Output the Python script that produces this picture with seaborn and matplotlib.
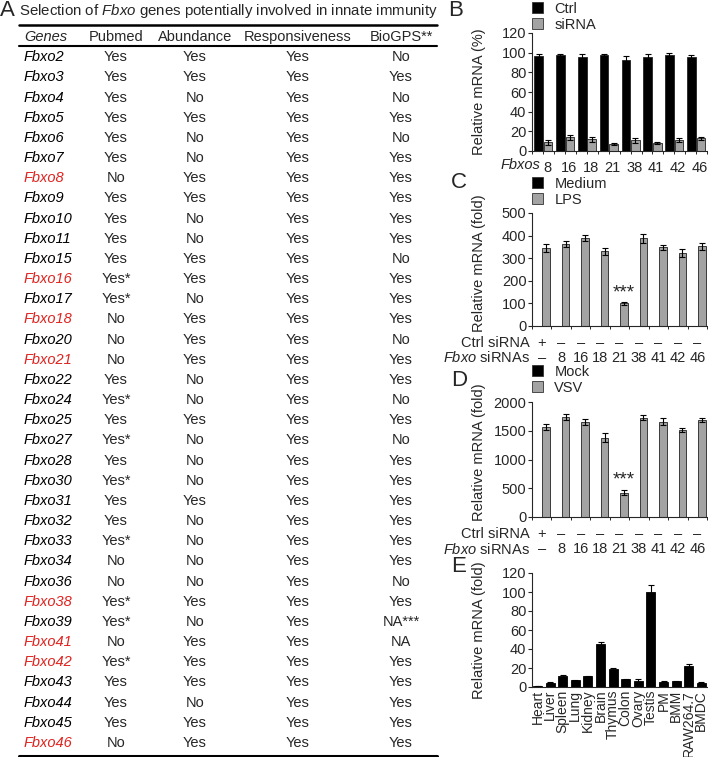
import numpy as np
import pandas as pd
import matplotlib
matplotlib.use("Agg")
import matplotlib.pyplot as plt
from matplotlib.patches import Patch
import seaborn as sns

# ---- table (panel A) ----
genes = ["Fbxo2", "Fbxo3", "Fbxo4", "Fbxo5", "Fbxo6", "Fbxo7", "Fbxo8", "Fbxo9",
         "Fbxo10", "Fbxo11", "Fbxo15", "Fbxo16", "Fbxo17", "Fbxo18", "Fbxo20",
         "Fbxo21", "Fbxo22", "Fbxo24", "Fbxo25", "Fbxo27", "Fbxo28", "Fbxo30",
         "Fbxo31", "Fbxo32", "Fbxo33", "Fbxo34", "Fbxo36", "Fbxo38", "Fbxo39",
         "Fbxo41", "Fbxo42", "Fbxo43", "Fbxo44", "Fbxo45", "Fbxo46"]
pubmed = ["Yes", "Yes", "Yes", "Yes", "Yes", "Yes", "No", "Yes", "Yes", "Yes", "Yes",
          "Yes*", "Yes*", "No", "No", "No", "Yes", "Yes*", "Yes", "Yes*", "Yes",
          "Yes*", "Yes", "Yes", "Yes*", "No", "No", "Yes*", "Yes*", "No", "Yes*",
          "Yes", "Yes", "Yes", "No"]
abundance = ["Yes", "Yes", "No", "Yes", "No", "No", "Yes", "Yes", "No", "No", "Yes",
             "Yes", "No", "Yes", "Yes", "Yes", "No", "No", "Yes", "No", "No", "No",
             "Yes", "No", "No", "No", "No", "Yes", "No", "Yes", "Yes", "Yes", "No",
             "Yes", "Yes"]
responsiveness = ["Yes", "Yes", "Yes", "Yes", "Yes", "Yes", "Yes", "Yes", "Yes", "Yes",
                  "Yes", "Yes", "Yes", "Yes", "Yes", "Yes", "Yes", "Yes", "Yes", "Yes",
                  "Yes", "Yes", "Yes", "Yes", "Yes", "Yes", "Yes", "Yes", "Yes", "Yes",
                  "Yes", "Yes", "Yes", "Yes", "Yes"]
biogps = ["No", "Yes", "No", "Yes", "No", "Yes", "Yes", "Yes", "Yes", "Yes", "No",
          "Yes", "Yes", "Yes", "No", "Yes", "Yes", "No", "Yes", "No", "Yes", "Yes",
          "Yes", "Yes", "Yes", "Yes", "No", "Yes", "NA***", "NA", "Yes", "Yes", "Yes",
          "Yes", "Yes"]
red_genes = ["Fbxo8", "Fbxo16", "Fbxo18", "Fbxo21", "Fbxo38", "Fbxo41", "Fbxo42", "Fbxo46"]
headers = ["Genes", "Pubmed", "Abundance", "Responsiveness", "BioGPS**"]

# ---- panel B ----
b_genes = ["8", "16", "18", "21", "38", "41", "42", "46"]
b_ctrl = [97, 98, 96, 98, 93, 96, 98, 96]
b_ctrl_err = [1.5, 1, 3, 1, 3.5, 2.5, 1.5, 2]
b_sirna = [9, 14, 12, 7, 11, 8, 11, 13]
b_sirna_err = [2.5, 2.5, 2.5, 1, 2.5, 1, 2, 1.5]

# ---- panel C ----
c_groups = ["ctrl", "8", "16", "18", "21", "38", "41", "42", "46"]
c_ctrl_row = ["+", "–", "–", "–", "–", "–", "–", "–", "–"]
c_fbxo_row = ["–", "8", "16", "18", "21", "38", "41", "42", "46"]
c_medium = [1.5, 1.5, 1.5, 1.5, 1.5, 1.5, 1.5, 1.5, 1.5]
c_lps = [345, 362, 390, 330, 100, 388, 348, 323, 352]
c_lps_err = [16, 13, 12, 15, 7, 20, 10, 16, 17]

# ---- panel D ----
d_mock = [6, 6, 6, 6, 6, 6, 6, 6, 6]
d_vsv = [1570, 1740, 1650, 1380, 420, 1730, 1660, 1510, 1695]
d_vsv_err = [55, 45, 50, 75, 45, 50, 55, 40, 35]

# ---- panel E ----
tissues = ["Heart", "Liver", "Spleen", "Lung", "Kidney", "Brain", "Thymus", "Colon",
           "Ovary", "Testis", "PM", "BMM", "RAW264.7", "BMDC"]
tissue_vals = [1, 4.5, 12, 7, 11.5, 45.5, 19, 8, 6.5, 100, 5.5, 6, 22.5, 4.5]
tissue_err = [0.3, 0.5, 1, 0.5, 0.5, 2, 1.5, 0.5, 1.5, 7, 0.5, 0.5, 1.5, 0.5]

sns.set_style("ticks")
plt.rcParams['font.family'] = ['Liberation Sans', 'DejaVu Sans']
plt.rcParams['mathtext.fontset'] = 'custom'
plt.rcParams['mathtext.rm'] = 'Liberation Sans'
plt.rcParams['mathtext.it'] = 'Liberation Sans:italic'
plt.rcParams['axes.linewidth'] = 0.8

W, H = 708, 757
FS = 10.5
GREY = '#a3a3a3'
RED = '#e0231f'

fig = plt.figure(figsize=(W / 100, H / 100), dpi=100)


def px_axes(l, t, r, b):
    return fig.add_axes([l / W, 1 - b / H, (r - l) / W, (b - t) / H])


def ftext(x, y, s, **kw):
    fig.text(x / W, 1 - y / H, s, **kw)


# panel letters
ftext(0, 11, "A", fontsize=16, va='center')
ftext(448, 11, "B", fontsize=16, va='center')
ftext(451, 183, "C", fontsize=16, va='center')
ftext(451, 380, "D", fontsize=16, va='center')
ftext(451, 567, "E", fontsize=16, va='center')
ftext(19, 11, r"Selection of $\mathit{Fbxo}$ genes potentially involved in innate immunity",
      fontsize=10.8, va='center')

# ---- table ----
ax_t = px_axes(19, 25, 437, 756)
ax_t.set_xlim(19, 437)
ax_t.set_ylim(34.65, -1.6)
ax_t.axis('off')
col_x = [24, 116, 195, 298, 401]
for j, h in enumerate(headers):
    ax_t.text(col_x[j], -1, h, ha='left' if j == 0 else 'center', va='center',
              fontsize=FS, style='italic' if j == 0 else 'normal')
for i, g in enumerate(genes):
    ax_t.text(col_x[0], i, g, ha='left', va='center', fontsize=FS, style='italic',
              color=RED if g in red_genes else 'black')
    for j, col in enumerate([pubmed, abundance, responsiveness, biogps]):
        ax_t.text(col_x[j + 1], i, col[i], ha='center', va='center', fontsize=FS)
ax_t.axhline(-1.6, color='black', lw=1.8, clip_on=False)
ax_t.axhline(-0.55, color='black', lw=1.5, clip_on=False)
ax_t.axhline(34.65, color='black', lw=2.2, clip_on=False)


def style_axes(ax, yticks, xlim):
    ax.set_ylim(0, yticks[-1])
    ax.set_yticks(yticks)
    ax.set_xlim(*xlim)
    ax.set_xlabel("")
    ax.set_ylabel("")
    sns.despine(ax=ax)
    ax.tick_params(axis='y', labelsize=FS, length=3, width=0.8, pad=1)
    ax.tick_params(axis='x', labelsize=FS, length=0, pad=3)


def add_errbars(ax, conts, errs):
    for cont, err in zip(conts, errs):
        xs = [p.get_x() + p.get_width() / 2 for p in cont]
        hs = [p.get_height() for p in cont]
        ax.errorbar(xs, hs, yerr=err, fmt='none', ecolor='black', elinewidth=0.8,
                    capsize=2, capthick=0.8)


def add_minor(ax, n):
    ax.set_xticks(np.arange(-0.5, n, 0.5), minor=True)
    ax.tick_params(axis='x', which='minor', length=2, width=0.7)


def legend(ax, labels, colors, x, y):
    handles = [Patch(facecolor=c, edgecolor='#333333', lw=0.6) for c in colors]
    ax.legend(handles=handles, labels=labels, loc='upper left',
              bbox_to_anchor=(x / W, 1 - y / H), bbox_transform=fig.transFigure,
              frameon=False, handlelength=0.78, handleheight=0.78, borderpad=0,
              borderaxespad=0, labelspacing=0.12, handletextpad=0.75, fontsize=FS)


# ---- panel B ----
ax_b = px_axes(532, 33, 707, 151)
df_b = pd.DataFrame({"gene": b_genes + b_genes,
                     "cond": ["Ctrl"] * len(b_genes) + ["siRNA"] * len(b_genes),
                     "value": b_ctrl + b_sirna})
sns.barplot(data=df_b, x="gene", y="value", hue="cond", palette=['black', GREY],
            width=0.88, gap=0.1, edgecolor='#222222', linewidth=0.6,
            errorbar=None, legend=False, ax=ax_b)
add_errbars(ax_b, ax_b.containers, [b_ctrl_err, b_sirna_err])
style_axes(ax_b, [0, 20, 40, 60, 80, 100, 120], (-0.52, 7.43))
ax_b.set_xticks(np.arange(len(b_genes)) + 0.17, b_genes)
ax_b.tick_params(axis='x', pad=7)
add_minor(ax_b, 8)
ax_b.set_ylabel("Relative mRNA (%)", fontsize=FS)
ax_b.yaxis.set_label_coords(-0.26, 0.5)
ax_b.annotate("Fbxos", xy=(0, 0), xycoords='axes fraction', xytext=(8, -14),
              textcoords='offset pixels', ha='right', va='center', style='italic',
              fontsize=FS)
legend(ax_b, ["Ctrl", "siRNA"], ['black', GREY], 532, 2)


def panel_cd(ax, low, high, high_err, labels, yticks, ylabel, star_y):
    df = pd.DataFrame({"grp": c_groups + c_groups,
                       "cond": [labels[0]] * len(c_groups) + [labels[1]] * len(c_groups),
                       "value": low + high})
    sns.barplot(data=df, x="grp", y="value", hue="cond", palette=['black', GREY],
                width=0.92, gap=0.15, edgecolor='#222222', linewidth=0.6,
                errorbar=None, legend=False, ax=ax)
    add_errbars(ax, [ax.containers[1]], [high_err])
    style_axes(ax, yticks, (-0.45, 8.35))
    add_minor(ax, 9)
    ax.set_xticklabels([])
    for i in range(len(c_groups)):
        ax.annotate(c_ctrl_row[i], xy=(i, 0), xycoords=('data', 'axes fraction'),
                    xytext=(0, -17), textcoords='offset pixels', ha='center',
                    va='center', fontsize=FS)
        ax.annotate(c_fbxo_row[i], xy=(i, 0), xycoords=('data', 'axes fraction'),
                    xytext=(0, -32), textcoords='offset pixels', ha='center',
                    va='center', fontsize=FS)
    ax.annotate("Ctrl siRNA", xy=(0, 0), xycoords='axes fraction', xytext=(-2, -17),
                textcoords='offset pixels', ha='right', va='center', fontsize=FS)
    ax.annotate(r"$\mathit{Fbxo}$ siRNAs", xy=(0, 0), xycoords='axes fraction',
                xytext=(-2, -32), textcoords='offset pixels', ha='right', va='center',
                fontsize=FS)
    ax.text(c_groups.index("21") + 0.22, star_y, "***", ha='center', va='bottom',
            fontsize=FS + 3)
    ax.set_ylabel(ylabel, fontsize=FS)
    ax.yaxis.set_label_coords(-0.26, 0.56)


ax_c = px_axes(532, 213, 707, 326)
panel_cd(ax_c, c_medium, c_lps, c_lps_err, ["Medium", "LPS"], [0, 100, 200, 300, 400, 500],
         "Relative mRNA (fold)", 110)
legend(ax_c, ["Medium", "LPS"], ['black', GREY], 532, 177)

ax_d = px_axes(532, 402, 707, 517)
panel_cd(ax_d, d_mock, d_vsv, d_vsv_err, ["Mock", "VSV"], [0, 500, 1000, 1500, 2000],
         "Relative mRNA (fold)", 500)
legend(ax_d, ["Mock", "VSV"], ['black', GREY], 532, 365)

# ---- panel E ----
ax_e = px_axes(532, 573, 707, 687)
sns.barplot(x=tissues, y=tissue_vals, color='black', width=0.71, edgecolor='black',
            linewidth=0.6, errorbar=None, ax=ax_e)
add_errbars(ax_e, ax_e.containers, [tissue_err])
style_axes(ax_e, [0, 20, 40, 60, 80, 100, 120], (-0.44, 13.45))
ax_e.tick_params(axis='x', rotation=90, labelsize=FS - 0.5, pad=2)
ax_e.set_ylabel("Relative mRNA (fold)", fontsize=FS)
ax_e.yaxis.set_label_coords(-0.26, 0.5)

fig.savefig("out.png", dpi=100)
